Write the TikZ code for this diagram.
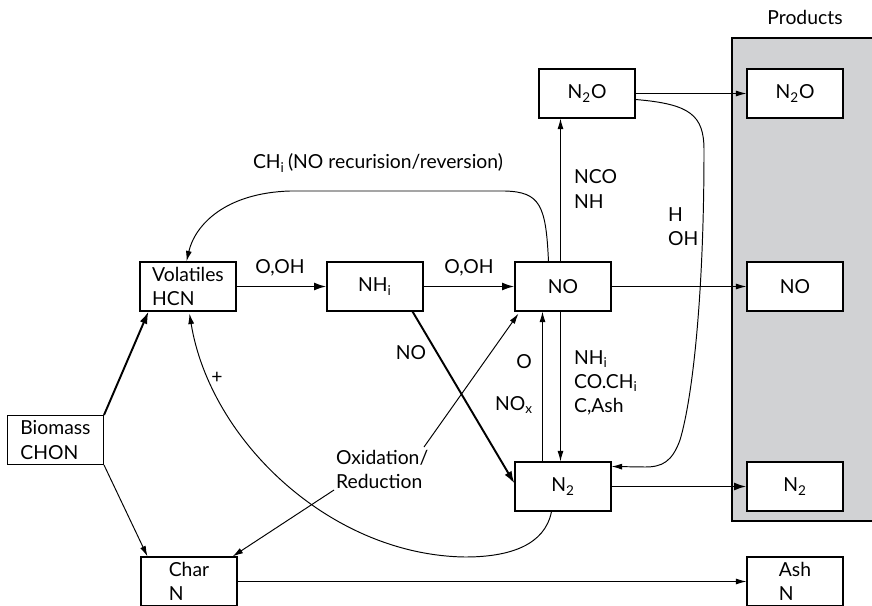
\documentclass[tikz,border=0pt]{standalone}
\usepackage{fontspec}
\setmainfont{Lato}
\usetikzlibrary{arrows.meta,calc}
\definecolor{prodgray}{RGB}{209,210,212}
\newcommand{\dn}[1]{\textsubscript{#1}}
\tikzset{
  box/.style={draw, fill=white, line width=0.6pt, minimum width=1.92cm,
    minimum height=0.98cm, inner sep=2pt, align=left},
  lbl/.style={inner sep=1pt, align=left},
  flow/.style={-{Latex[length=6pt,width=3.4pt]}, line width=0.55pt},
  thk/.style={-{Latex[length=7pt,width=4.5pt]}, line width=1.1pt},
}

\begin{document}
\begin{tikzpicture}[x=0.02cm, y=-0.02cm, font=\fontsize{11}{13.7}\selectfont]
  \useasboundingbox (0,0) rectangle (872,605);
  \clip (0,0) rectangle (872,605);

  \fill[prodgray, draw=black, line width=0.6pt] (732,38) rectangle (880,521);
  \node[lbl] (prodlbl) at (805,17) {Products};

  \node[box] (bio)    at (55.5,440)  {Biomass\\CHON};
  \node[box] (vol)    at (188,286.5) {Volatiles\\HCN};
  \node[box] (nhi)    at (375,286.5) {NH\dn{i}};
  \node[box] (no)     at (563,286.5) {NO};
  \node[box] (ntwoo)  at (587,93.5)  {N\dn{2}O};
  \node[box] (ntwo)   at (563,486.5) {N\dn{2}};
  \node[box] (char)   at (189,581.5) {Char\\N};
  \node[box] (pntwoo) at (795,93.5)  {N\dn{2}O};
  \node[box] (pno)    at (795,286.5) {NO};
  \node[box] (pntwo)  at (795,486.5) {N\dn{2}};
  \node[box] (ash)    at (795,581.5) {Ash\\N};

  \node[lbl] (oh1)    at (280,268) {O,OH};
  \node[lbl] (oh2)    at (469,268) {O,OH};
  \node[lbl] (nolbl)  at (411,353) {NO};
  \node[lbl] (olbl)   at (524,362) {O};
  \node[lbl] (noxlbl) at (514,405) {NO\dn{x}};
  \node[lbl, anchor=west] (redlbl) at (572,383) {NH\dn{i}\\CO.CH\dn{i}\\C,Ash};
  \node[lbl, anchor=west] (ncolbl) at (572,189) {NCO\\NH};
  \node[lbl, anchor=west] (hlbl)   at (666,227) {H\\OH};
  \node[lbl] (chilbl) at (378,163) {CH\dn{i}\,(NO recurision/reversion)};
  \node[lbl] (plus)   at (217,378) {+};
  \node[lbl, anchor=west] (oxred)  at (334,469) {Oxidation/\\Reduction};

  \coordinate (oxa) at (424,447);
  \coordinate (oxb) at (334,490);

  \draw[thk] (bio.north east) -- ($(vol.south west)+(9,0)$);
  \draw[flow] (bio.south east) -- ($(char.north west)+(7,0)$);
  \draw[thk] (vol) -- (nhi);
  \draw[thk] (nhi) -- (no);
  \draw[thk] ($(nhi.south east)+(-11,0)$) -- ($(ntwo.west)+(0,-3)$);
  \draw[thk] (ntwo) -- (pntwo);
  \draw[flow] (no) -- (pno);
  \draw[flow] (ntwoo) -- (pntwoo);
  \draw[flow] (char) -- (ash);
  \draw[flow] ($(no.north west)+(46,0)$) -- ($(ntwoo.south west)+(22,0)$);
  \draw[flow] ($(ntwo.north west)+(28,0)$) -- ($(no.south west)+(28,0)$);
  \draw[flow] ($(no.south west)+(46,0)$) -- ($(ntwo.north west)+(46,0)$);
  \draw[flow] (oxa) -- ($(no.south west)+(4,2)$);
  \draw[flow] (oxb) -- ($(char.north east)+(-5,0)$);

  % recursion loops
  \draw[flow] ($(no.north west)+(34,0)$) .. controls (546,205) and (540,192) .. (505,191)
    -- (290,191) .. controls (225,193) and (195,225) .. ($(vol.north west)+(47,0)$);
  \draw[flow] ($(ntwo.south west)+(37,0)$) .. controls (545,545) and (510,557) .. (465,557)
    .. controls (330,555) and (210,440) .. ($(vol.south west)+(50,2)$);
  \draw[flow] ($(ntwoo.east)+(0,6)$) .. controls (690,104) and (704,115) .. (704,150)
    .. controls (704,300) and (692,400) .. (680,440)
    .. controls (672,462) and (662,467) .. (645,467) -- ($(ntwo.north east)+(0,5)$);
\end{tikzpicture}
\end{document}
